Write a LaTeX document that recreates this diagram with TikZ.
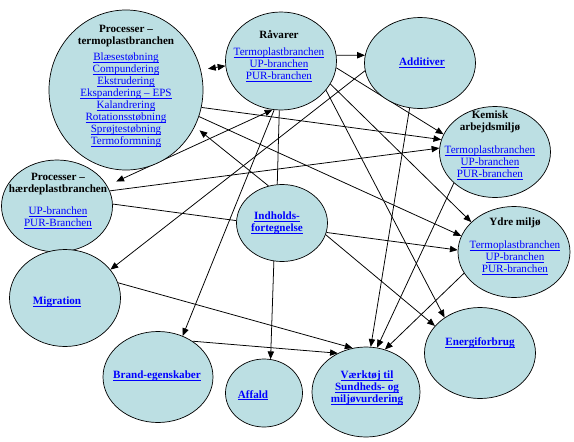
\documentclass[tikz,border=0pt]{standalone}
\usepackage{fontspec}
\setmainfont{Liberation Serif}
\usetikzlibrary{arrows.meta,shapes.geometric,backgrounds}
\definecolor{bubblefill}{HTML}{BCDFE3}
\definecolor{linkblue}{HTML}{0000FF}
\newcommand{\lnk}[1]{\textcolor{linkblue}{\setbox0\hbox{#1}\rlap{\rule[-1.3pt]{\wd0}{0.45pt}}\box0}}
\newcommand{\blnk}[1]{\lnk{\textbf{#1}}}

\begin{document}
\begin{tikzpicture}[x=0.025cm,y=-0.025cm,
  >={Triangle[length=5.5pt,width=4.5pt]},
  bubble/.style 2 args={ellipse,draw,fill=bubblefill,line width=0.5pt,inner sep=0pt,
    minimum width=#1*0.025cm,minimum height=#2*0.025cm},
  txt/.style={align=center,font=\fontsize{7.9}{8.5}\selectfont,inner sep=0pt},
  every path/.style={line width=0.55pt}]
  \useasboundingbox (0,0) rectangle (574,442);

  % Bubbles
  \node[bubble={154}{160}] (termo) at (126,90) {};
  \node[bubble={111}{98}] (raavarer) at (281,61) {};
  \node[bubble={111}{91}] (additiv) at (420,63) {};
  \node[bubble={111}{91}] (kemisk) at (495,152) {};
  \node[bubble={111}{92}] (haerde) at (57,206) {};
  \node[bubble={91}{77}] (indhold) at (282,223) {};
  \node[bubble={112}{91}] (ydre) at (514,252) {};
  \node[bubble={111}{97}] (migration) at (65,298) {};
  \node[bubble={110}{91}] (brand) at (158,377) {};
  \node[bubble={77}{68}] (affald) at (264,393) {};
  \node[bubble={108}{90}] (vaerktoj) at (366,392) {};
  \node[bubble={111}{91}] (energi) at (480,353) {};

  % Texts
  \node[txt] (termotxt) at (126,86) {\textbf{Processer –}\\\textbf{termoplastbranchen}\\[3pt]
    \lnk{Blæsestøbning}\\\lnk{Compundering}\\\lnk{Ekstrudering}\\\lnk{Ekspandering – EPS}\\
    \lnk{Kalandrering}\\\lnk{Rotationsstøbning}\\\lnk{Sprøjtestøbning}\\\lnk{Termoformning}};
  \node[txt] (raavarertxt) at (279,56) {\textbf{Råvarer}\\[4pt]
    \lnk{Termoplastbranchen}\\\lnk{UP-branchen}\\\lnk{PUR-branchen}};
  \node[txt] (additivtxt) at (422,63) {\blnk{Additiver}};
  \node[txt] (kemisktxt) at (490,145) {\textbf{Kemisk}\\\textbf{arbejdsmiljø}\\[8pt]
    \lnk{Termoplastbranchen}\\\lnk{UP-branchen}\\\lnk{PUR-branchen}};
  \node[txt] (haerdetxt) at (58,201) {\textbf{Processer –}\\\textbf{hærdeplastbranchen}\\[7pt]
    \lnk{UP-branchen}\\\lnk{PUR-Branchen}};
  \node[txt] (indholdtxt) at (277,223) {\blnk{Indholds-}\\\blnk{fortegnelse}};
  \node[txt] (ydretxt) at (515,246) {\textbf{Ydre miljø}\\[8pt]
    \lnk{Termoplastbranchen}\\\lnk{UP-branchen}\\\lnk{PUR-branchen}};
  \node[txt] (migrationtxt) at (57,302) {\blnk{Migration}};
  \node[txt] (brandtxt) at (157,376) {\blnk{Brand-egenskaber}};
  \node[txt] (affaldtxt) at (253,395) {\blnk{Affald}};
  \node[txt] (vaerktojtxt) at (367,388) {\blnk{Værktøj til}\\\blnk{Sundheds- og}\\\blnk{miljøvurdering}};
  \node[txt] (energitxt) at (480,343) {\blnk{Energiforbrug}};

  % Connectors
  \begin{scope}[on background layer]
    \draw[<->,shorten <=0.18cm] (termo.15) -- (raavarer.185);
    \draw[->] (raavarer.6) -- (additiv.172);
    \draw[->] (termo.347) -- (kemisk.167);
    \draw[->] (raavarer.353) -- (kemisk.161);
    \draw[->] (haerde.16) -- (kemisk.176);
    \draw[->] (termo.340) -- (ydre.163);
    \draw[->] (raavarer.335) -- (ydre.145);
    \draw[->] (raavarer.327) -- (energi.135);
    \draw[<->,shorten <=0.25cm] (haerde.22) -- (raavarer.260);
    \draw[->] (raavarer.262) -- (brand.59);
    \draw (raavarer.268) -- (indhold.97);
    \draw[->] (indhold.258) -- (affald.79);
    \draw[->,shorten >=0.15cm] (indhold.110) -- (termo.332);
    \draw[->] (indhold.345) -- (energi.149);
    \draw (haerde.2) -- (indhold.177);
    \draw[->] (indhold.348) -- (ydre.178);
    \draw[->] (additiv.188) -- (migration.32);
    \draw[->] (additiv.257) -- (vaerktoj.84);
    \draw[->] (kemisk.217) -- (vaerktoj.76);
    \draw[->] (ydre.203) -- (vaerktoj.66);
    \draw[->] (migration.16) -- (vaerktoj.107);
    \draw[->] (brand.46) -- (vaerktoj.126);
  \end{scope}
\end{tikzpicture}
\end{document}
